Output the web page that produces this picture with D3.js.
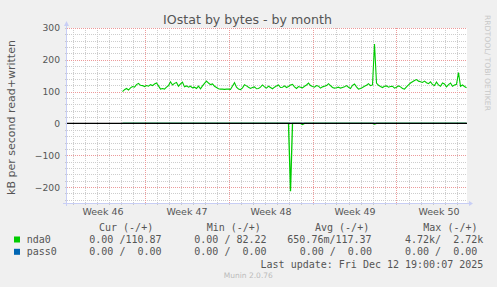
<!DOCTYPE html>
<html><head><meta charset="utf-8">
<script src="https://cdn.jsdelivr.net/npm/d3@7"></script>
<style>
html,body{margin:0;padding:0;background:#f0f0f0;}
svg{display:block;}
text{font-family:"DejaVu Sans",sans-serif;}
.mono{font-family:"DejaVu Sans Mono",monospace;}
</style></head>
<body>
<svg id="c" width="497" height="287"></svg>
<script>
// ---- data ----
const title = "IOstat by bytes - by month";
const yLabel = "kB per second read+written";
const seriesNames = ["nda0", "pass0"];
const seriesColors = ["#00cc00", "#0066b3"];
const dataStart = new Date(2025, 10, 15, 4, 0, 0);
const stepHours = 4;
// written (plotted positive) for nda0
const nda0Written = [
  100,106,110,105,112,116,114,122,126,120,119,116,119,117,122,119,124,127,118,108,
  110,108,114,119,131,121,126,129,117,124,130,115,118,114,117,112,114,110,117,109,
  118,126,133,127,122,124,117,113,109,108,108,107,108,108,107,118,128,114,108,106,
  112,122,118,114,110,113,115,109,110,114,121,115,111,117,113,109,114,118,121,113,
  114,118,113,116,121,123,115,110,116,114,112,117,121,127,119,116,114,119,117,111,
  115,117,119,125,119,113,111,112,114,111,113,115,119,114,110,120,124,115,108,110,
  113,117,120,125,119,121,250,127,120,116,113,117,118,114,116,117,111,114,118,115,
  110,108,115,121,127,131,135,138,133,131,129,133,128,125,131,122,119,130,121,117,
  127,124,115,122,127,117,121,123,160,117,121,116,112];
// read (plotted negative) for nda0 : mostly zero
const nda0Read = nda0Written.map(() => 0);
nda0Read[84] = 213; nda0Read[90] = 3; nda0Read[126] = 2;
const pass0Values = nda0Written.map(() => 0);
const yTickValues = [-200, -100, 0, 100, 200, 300];
const weekLabels = ["Week 46", "Week 47", "Week 48", "Week 49", "Week 50"];
const weekLabelDates = [new Date(2025,10,13,12), new Date(2025,10,20,12), new Date(2025,10,27,12), new Date(2025,11,4,12), new Date(2025,11,11,12)];
const legendHeaders = ["Cur (-/+)", "Min (-/+)", "Avg (-/+)", "Max (-/+)"];
const legendRows = [
  ["0.00 /110.87", "0.00 / 82.22", "650.76m/117.37", "4.72k/  2.72k"],
  ["0.00 /  0.00", "0.00 /  0.00", "0.00 /  0.00", "0.00 /  0.00"]
];
const lastUpdate = "Last update: Fri Dec 12 19:00:07 2025";
const footer = "Munin 2.0.76";
const sideText = "RRDTOOL/ TOBI OETIKER";

// ---- scales ----
const L = 67, R = 467, T = 28, B = 203;
const x = d3.scaleTime().domain([new Date(2025,10,10,13), new Date(2025,11,13,21)]).range([L, R]);
const y = d3.scaleLinear().domain([-250, 300]).range([B, T]);
const times = nda0Written.map((_, i) => d3.timeHour.offset(dataStart, i * stepHours));

const svg = d3.select("#c");
svg.append("rect").attr("width", 497).attr("height", 287).attr("fill", "#f0f0f0");
svg.append("rect").attr("x", L).attr("y", T).attr("width", R - L).attr("height", B - T).attr("fill", "#fff");

// grid
const days = d3.timeDay.range(x.domain()[0], x.domain()[1]);
const mondays = d3.timeMonday.range(x.domain()[0], x.domain()[1]);
const minorY = d3.range(-240, 301, 20);
const majorY = [-200, -100, 100, 200, 300];
const minorCol = "#cdcdcd", majorCol = "#ec9a9a";
const px = v => Math.round(v) + 0.5;
const g = svg.append("g").attr("shape-rendering", "crispEdges");
g.selectAll(".vm").data(days).join("line")
  .attr("x1", d => px(x(d))).attr("x2", d => px(x(d)))
  .attr("y1", T).attr("y2", B).attr("stroke", minorCol).attr("stroke-dasharray", "1,1");
g.selectAll(".hm").data(minorY).join("line")
  .attr("y1", d => px(y(d))).attr("y2", d => px(y(d)))
  .attr("x1", L).attr("x2", R).attr("stroke", minorCol).attr("stroke-dasharray", "1,1");
g.selectAll(".vM").data(mondays).join("line")
  .attr("x1", d => px(x(d))).attr("x2", d => px(x(d)))
  .attr("y1", T).attr("y2", B + 3).attr("stroke", majorCol).attr("stroke-dasharray", "1,1");
g.selectAll(".hM").data(majorY).join("line")
  .attr("y1", d => px(y(d))).attr("y2", d => px(y(d)))
  .attr("x1", L).attr("x2", R).attr("stroke", majorCol).attr("stroke-dasharray", "1,1");

// small ticks
g.selectAll(".xt").data(days).join("line")
  .attr("x1", d => px(x(d))).attr("x2", d => px(x(d)))
  .attr("y1", B).attr("y2", B + 2).attr("stroke", "#c8c8c8");
g.selectAll(".yt").data(minorY).join("line")
  .attr("y1", d => px(y(d))).attr("y2", d => px(y(d)))
  .attr("x1", L - 2).attr("x2", L).attr("stroke", "#c8c8c8");

// axes lines + arrows
const axisCol = "#c8cef5";
svg.append("line").attr("x1", L - 4).attr("x2", R + 3).attr("y1", B + 0.5).attr("y2", B + 0.5).attr("stroke", axisCol);
svg.append("line").attr("x1", L - 0.5).attr("x2", L - 0.5).attr("y1", B + 3).attr("y2", T - 4).attr("stroke", axisCol);
svg.append("path").attr("d", `M${R+2},${B-2} L${R+6},${B+0.5} L${R+2},${B+3} Z`).attr("fill", axisCol);
svg.append("path").attr("d", `M${L-3},${T-2} L${L-0.5},${T-7} L${L+2},${T-2} Z`).attr("fill", axisCol);

// lines
const lineW = d3.line().x((d, i) => x(times[i])).y(d => y(d));
const lineR = d3.line().x((d, i) => x(times[i])).y(d => y(-d));
svg.append("path").datum(pass0Values).attr("d", lineW).attr("fill", "none").attr("stroke", seriesColors[1]).attr("stroke-width", 1.2);
svg.append("path").datum(nda0Read).attr("d", lineR).attr("fill", "none").attr("stroke", seriesColors[0]).attr("stroke-width", 1.3);
svg.append("path").datum(nda0Written).attr("d", lineW).attr("fill", "none").attr("stroke", seriesColors[0]).attr("stroke-width", 1.1);
// zero rule
svg.append("line").attr("x1", L).attr("x2", R).attr("y1", y(0)).attr("y2", y(0)).attr("stroke", "#000").attr("stroke-width", 1.3);

// axes labels
const ya = svg.append("g").attr("transform", `translate(${L - 7},0)`)
  .call(d3.axisLeft(y).tickValues(yTickValues).tickSize(0).tickPadding(0));
ya.select(".domain").remove();
ya.selectAll("text").attr("font-size", 9.2).attr("fill", "#555").attr("font-family", "DejaVu Sans");
const xa = svg.append("g").attr("transform", `translate(0,${B + 3})`)
  .call(d3.axisBottom(x).tickValues(weekLabelDates).tickFormat((d, i) => weekLabels[i]).tickSize(0).tickPadding(0));
xa.select(".domain").remove();
xa.selectAll("text").attr("font-size", 9.5).attr("fill", "#555").attr("font-family", "DejaVu Sans").attr("dy", "0.95em");

// title
svg.append("text").attr("x", 247.5).attr("y", 23.5).attr("text-anchor", "middle")
  .attr("font-size", 12.6).attr("fill", "#555").text(title);
// y label
svg.append("text").attr("transform", `translate(15,${(T + B) / 2 + 2}) rotate(-90)`).attr("text-anchor", "middle")
  .attr("font-size", 11).attr("fill", "#555").text(yLabel);
// side text
svg.append("text").attr("transform", `translate(485,15) rotate(90)`).attr("font-size", 7.5)
  .attr("textLength", 96).attr("lengthAdjust", "spacingAndGlyphs").attr("fill", "#c8c8c8").text(sideText);

// legend
const colX = [99, 206.7, 315, 423.3];
const valX = [[89.3, 194.3, 287.3, 405], [89.3, 194.3, 299.7, 405]];
const leg = svg.append("g").attr("class", "mono").attr("font-size", 10).attr("fill", "#555");
legendHeaders.forEach((h, i) => leg.append("text").attr("class", "mono").attr("x", colX[i]).attr("y", 230.5).style("white-space", "pre").text(h));
const rowY = [243, 255.3];
seriesNames.forEach((n, r) => {
  leg.append("rect").attr("x", 14).attr("y", rowY[r] - 6.5).attr("width", 6).attr("height", 6).attr("fill", seriesColors[r]);
  leg.append("text").attr("class", "mono").attr("x", 26.7).attr("y", rowY[r]).text(n);
  legendRows[r].forEach((v, c) => leg.append("text").attr("class", "mono").attr("x", valX[r][c]).attr("y", rowY[r]).style("white-space", "pre").text(v));
});
leg.append("text").attr("class", "mono").attr("x", 483.3).attr("y", 267.5).attr("text-anchor", "end").text(lastUpdate);
svg.append("text").attr("x", 248.3).attr("y", 278.3).attr("text-anchor", "middle").attr("font-size", 7.5).attr("fill", "#bbb").text(footer);
</script>
</body></html>
